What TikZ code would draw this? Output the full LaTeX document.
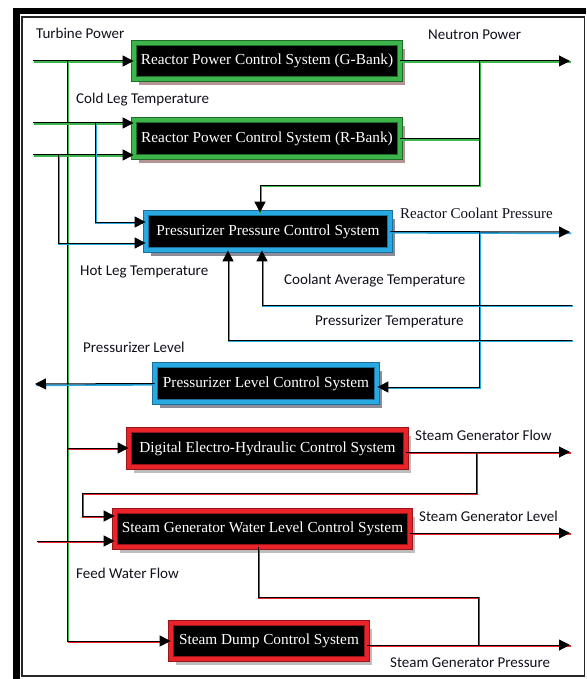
\documentclass[tikz,border=0pt]{standalone}
\usepackage{fontspec}
\setmainfont{Liberation Serif}
\newfontfamily\labfont{Carlito}
\usetikzlibrary{arrows.meta,shadows}
\definecolor{cG}{HTML}{3DB54A}
\definecolor{cGd}{HTML}{1E6B2A}
\definecolor{cB}{HTML}{29A9E1}
\definecolor{cBd}{HTML}{1B6F99}
\definecolor{cR}{HTML}{E8232A}
\definecolor{cRd}{HTML}{9A1418}
\definecolor{shG}{HTML}{B39595}
\definecolor{shB}{HTML}{8C8C99}
\definecolor{shR}{HTML}{BDBDBD}
\definecolor{labc}{HTML}{10101C}
\begin{document}
\begin{tikzpicture}[x=1pt,y=-1pt,
  boxbase/.style={fill=black, text=white, font=\fontsize{15.3}{18}\selectfont,
    inner sep=0pt, line width=0.8pt, double distance=4.4pt},
  gbox/.style={boxbase, draw=cGd, double=cG,
    drop shadow={shadow xshift=5pt, shadow yshift=-6pt, fill=shG, opacity=1}},
  bbox/.style={boxbase, draw=cBd, double=cB,
    drop shadow={shadow xshift=5pt, shadow yshift=-6pt, fill=shB, opacity=1}},
  rbox/.style={boxbase, draw=cRd, double=cR,
    drop shadow={shadow xshift=5pt, shadow yshift=-6pt, fill=shR, opacity=1}},
  conn/.style={draw=black, line width=1pt,
    preaction={draw=#1, line width=1.7pt, -, transform canvas={shift={(1.3pt,-1.3pt)}}}},
  arr/.style={-{Triangle[length=11pt,width=11pt]}},
  lab/.style={anchor=west, inner sep=0pt, text=labc, font=\labfont\fontsize{15}{17}\selectfont},
  slab/.style={anchor=west, inner sep=0pt, text=labc, font=\fontsize{15}{17}\selectfont}
]
\useasboundingbox (0,0) rectangle (586,679);
% frame
\fill[black] (13,8) rectangle (20,679);
\fill[black] (13,8) rectangle (586,14);
\draw[line width=1.5pt, black!85] (22,17) rectangle (584.5,676);

% boxes
\node[gbox, minimum width=266, minimum height=36] (G) at (267,61) {Reactor Power Control System (G-Bank)};
\node[gbox, minimum width=266, minimum height=37] (R) at (267,138.5) {Reactor Power Control System (R-Bank)};
\node[bbox, minimum width=244, minimum height=37] (PP) at (268,231.5) {Pressurizer Pressure Control System};
\node[bbox, minimum width=222, minimum height=37] (PL) at (266,383.5) {Pressurizer Level Control System};
\node[rbox, minimum width=277, minimum height=37] (DEH) at (267.5,448.5) {Digital Electro-Hydraulic Control System};
\node[rbox, minimum width=295, minimum height=36] (SG) at (262.5,529) {Steam Generator Water Level Control System};
\node[rbox, minimum width=196, minimum height=36] (SD) at (269,641) {Steam Dump Control System};

% coordinates
\coordinate (tp) at (33,61);
\coordinate (tpj) at (67,61);
\coordinate (sdj) at (67,641);
\coordinate (dehj) at (67,448);
\coordinate (cl) at (33,123);
\coordinate (clj) at (95,123);
\coordinate (cld) at (95,222);
\coordinate (hl) at (33,155);
\coordinate (hlj) at (58,155);
\coordinate (hld) at (58,243);
\coordinate (npj) at (479,61);
\coordinate (npo) at (570,61);
\coordinate (npd) at (479,185);
\coordinate (ppt) at (260,185);
\coordinate (rcpo) at (570,232);
\coordinate (rcpj) at (479,232);
\coordinate (rcpd) at (479,387);
\coordinate (cat) at (572,305);
\coordinate (catc) at (262,305);
\coordinate (prt) at (572,340);
\coordinate (prtc) at (228,340);
\coordinate (plo) at (35,384);
\coordinate (sgfo) at (570,452);
\coordinate (sgfj) at (476,452);
\coordinate (sgfd) at (476,493);
\coordinate (sgfl) at (82,493);
\coordinate (sgfi) at (82,516);
\coordinate (fw) at (37,541);
\coordinate (sglo) at (570,533);
\coordinate (sgwd) at (258,597);
\coordinate (sgpj) at (478,597);
\coordinate (sgpd) at (478,645);
\coordinate (sgpo) at (570,645);

% connectors
\draw[conn=cG,arr] (tp) -- (G.west);
\draw[conn=cG] (tpj) -- (sdj);
\draw[conn=cR,arr] (sdj) -- (SD.west);
\draw[conn=cR,arr] (dehj) -- (DEH.west |- dehj);
\draw[conn=cG,arr] (cl) -- (cl -| R.west);
\draw[conn=cG,arr] (hl) -- (hl -| R.west);
\draw[conn=cB,arr] (clj) |- (PP.west |- cld);
\draw[conn=cB,arr] (hlj) |- (PP.west |- hld);
\draw[conn=cG,arr] (G.east) -- (npo);
\draw[conn=cG] (R.east) -- (R.east -| npj);
\draw[conn=cG,arr] (npj) -- (npd) -- (ppt) -- (ppt |- PP.north);
\draw[conn=cB,arr] (PP.east) -- (rcpo);
\draw[conn=cB,arr] (rcpj) -- (rcpd) -- (rcpd -| PL.east);
\draw[conn=cB,arr] (cat) -- (catc) -- (catc |- PP.south);
\draw[conn=cB,arr] (prt) -- (prtc) -- (prtc |- PP.south);
\draw[conn=cB,arr] (PL.west) -- (plo);
\draw[conn=cR,arr] (DEH.east |- sgfo) -- (sgfo);
\draw[conn=cR,arr] (sgfj) -- (sgfd) -- (sgfl) -- (sgfi) -- (sgfi -| SG.west);
\draw[conn=cR,arr] (fw) -- (fw -| SG.west);
\draw[conn=cR,arr] (SG.east |- sglo) -- (sglo);
\draw[conn=cR] (sgwd |- SG.south) -- (sgwd) -- (sgpj) -- (sgpd);
\draw[conn=cR,arr] (SD.east |- sgpo) -- (sgpo);

% labels
\node[lab] (l1) at (36,33) {Turbine Power};
\node[lab] (l2) at (428,35) {Neutron Power};
\node[lab] (l3) at (76,100) {Cold Leg Temperature};
\node[slab] (l4) at (400,213) {Reactor Coolant Pressure};
\node[lab] (l5) at (80,272) {Hot Leg Temperature};
\node[lab] (l6) at (284,281) {Coolant Average Temperature};
\node[lab] (l7) at (315,322) {Pressurizer Temperature};
\node[lab] (l8) at (83,347) {Pressurizer Level};
\node[lab] (l9) at (415,435) {Steam Generator Flow};
\node[lab] (l10) at (419,516) {Steam Generator Level};
\node[lab] (l11) at (76,573) {Feed Water Flow};
\node[lab] (l12) at (390,663) {Steam Generator Pressure};
\end{tikzpicture}
\end{document}
